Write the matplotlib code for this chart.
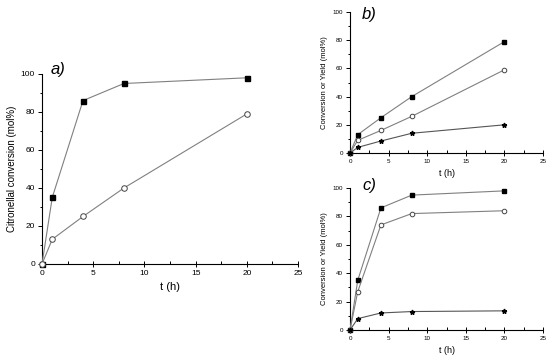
import matplotlib
matplotlib.use("Agg")
import matplotlib.pyplot as plt
from matplotlib.ticker import MultipleLocator

plt.rcParams['font.family'] = ['Liberation Sans', 'DejaVu Sans']

t = [0, 1, 4, 8, 20]
a_conv_sq = [0, 35, 86, 95, 98]
a_conv_ci = [0, 13, 25, 40, 79]
b_sq = [0, 13, 25, 40, 79]
b_ci = [0, 9, 16, 26, 59]
b_st = [0, 4, 8.5, 14, 20]
c_sq = [0, 35, 86, 95, 98]
c_ci = [0, 27, 74, 82, 84]
c_st = [0, 8, 12, 13, 13.5]

fig = plt.figure(figsize=(5.5, 3.58), dpi=100)
axa = fig.add_axes([0.0764, 0.2626, 0.4655, 0.5307])
axb = fig.add_axes([0.6364, 0.5726, 0.3509, 0.3939])
axc = fig.add_axes([0.6364, 0.0782, 0.3509, 0.3966])

LC = '#808080'

def style(ax, tfs, lfs, ylabel):
    ax.set_xlim(0, 25)
    ax.set_ylim(0, 100)
    for s in ['top', 'right']:
        ax.spines[s].set_visible(False)
    for s in ['left', 'bottom']:
        ax.spines[s].set_linewidth(0.8)
    ax.xaxis.set_major_locator(MultipleLocator(5))
    ax.xaxis.set_minor_locator(MultipleLocator(2.5))
    ax.yaxis.set_major_locator(MultipleLocator(20))
    ax.yaxis.set_minor_locator(MultipleLocator(10))
    ax.tick_params(axis='x', which='major', direction='inout', length=4, width=0.7, labelsize=tfs, pad=2)
    ax.tick_params(axis='x', which='minor', direction='in', length=2, width=0.7)
    ax.tick_params(axis='y', which='major', direction='out', length=3, width=0.7, labelsize=tfs, pad=2)
    ax.tick_params(axis='y', which='minor', direction='out', length=1.5, width=0.7)
    ax.set_ylabel(ylabel, fontsize=lfs, labelpad=3)
    ax.set_xlabel('t (h)', fontsize=lfs + 1, labelpad=4)

def series(ax, y, kind, ms):
    if kind == 'sq':
        ax.plot(t, y, color=LC, lw=0.8, marker='s', ms=ms, mfc='black', mec='black', clip_on=False, zorder=3)
    elif kind == 'ci':
        ax.plot(t, y, color=LC, lw=0.8, marker='o', ms=ms, mfc='white', mec='#444444', mew=0.7, clip_on=False, zorder=3)
    else:
        ax.plot(t, y, color='#555555', lw=0.8, marker='*', ms=ms, mfc='black', mec='black', clip_on=False, zorder=3)

series(axa, a_conv_sq, 'sq', 3.6)
series(axa, a_conv_ci, 'ci', 4)
style(axa, 6, 7, 'Citronellal conversion (mol%)')
axa.text(0.8, 102.5, 'a)', fontsize=12, style='italic', ha='left', va='center')

series(axb, b_sq, 'sq', 3)
series(axb, b_ci, 'ci', 3.3)
series(axb, b_st, 'st', 3.5)
style(axb, 4.5, 5.5, 'Conversion or Yield (mol%)')
axb.text(1.55, 98, 'b)', fontsize=12, style='italic', ha='left', va='center')

series(axc, c_sq, 'sq', 3)
series(axc, c_ci, 'ci', 3.3)
series(axc, c_st, 'st', 3.5)
style(axc, 4.5, 5.5, 'Conversion or Yield (mol%)')
axc.text(1.55, 102, 'c)', fontsize=12, style='italic', ha='left', va='center')

fig.savefig('out.png', dpi=100)
